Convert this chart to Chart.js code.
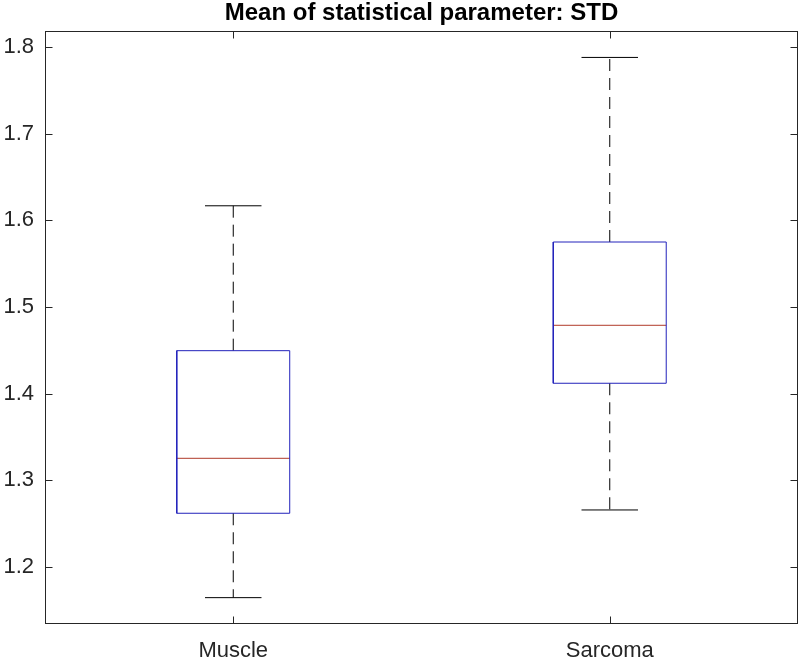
<!DOCTYPE html>
<html><head><meta charset="utf-8">
<style>html,body{margin:0;padding:0;background:#fff}#wrap{width:800px;height:662px}</style>
<script src="https://cdn.jsdelivr.net/npm/chart.js@4"></script>
</head><body><div id="wrap"><canvas id="c" width="800" height="662"></canvas></div>
<script>
// ---- data ----
const categories = ['Muscle', 'Sarcoma'];
const whiskerLow = [1.1646, 1.2658];
const q1 = [1.262, 1.412];
const median = [1.3254, 1.4789];
const q3 = [1.4496, 1.575];
const whiskerHigh = [1.6168, 1.788];
const yTicks = [1.2, 1.3, 1.4, 1.5, 1.6, 1.7, 1.8];
const yLimits = [1.1342, 1.8185];
const xLimits = [0.5, 2.5];
const titleText = 'Mean of statistical parameter: STD';

// ---- styling ----
const BOX_HALF = 0.15, CAP_HALF = 0.075;
const AXIS_COLOR = '#262626';
const BOX_COLOR = '#2222bb';
const MED_COLOR = '#b03a2a';

function line(points, color, dash) {
  return { data: points, showLine: true, borderColor: color, borderWidth: 1,
    borderDash: dash || [], pointRadius: 0, fill: false, tension: 0 };
}
const datasets = [];
categories.forEach((c, i) => {
  const x = i + 1;
  datasets.push(line([{x:x-BOX_HALF,y:q1[i]},{x:x+BOX_HALF,y:q1[i]},{x:x+BOX_HALF,y:q3[i]},{x:x-BOX_HALF,y:q3[i]},{x:x-BOX_HALF,y:q1[i]}], BOX_COLOR));
  datasets.push(line([{x:x-BOX_HALF,y:median[i]},{x:x+BOX_HALF,y:median[i]}], MED_COLOR));
  datasets.push(line([{x:x,y:q3[i]},{x:x,y:whiskerHigh[i]}], '#000', [12, 7]));
  datasets.push(line([{x:x,y:q1[i]},{x:x,y:whiskerLow[i]}], '#000', [12, 7]));
  datasets.push(line([{x:x-CAP_HALF,y:whiskerHigh[i]},{x:x+CAP_HALF,y:whiskerHigh[i]}], '#000'));
  datasets.push(line([{x:x-CAP_HALF,y:whiskerLow[i]},{x:x+CAP_HALF,y:whiskerLow[i]}], '#000'));
});

const frameTicks = {
  id: 'frameTicks',
  afterDraw(chart) {
    const {ctx, chartArea: a, scales} = chart;
    const L = Math.round(a.left) + 0.5, R = Math.round(a.right) - 0.5;
    const T = Math.round(a.top) + 0.5, B = Math.round(a.bottom) - 0.5;
    ctx.save();
    ctx.strokeStyle = AXIS_COLOR; ctx.lineWidth = 1; ctx.setLineDash([]);
    ctx.strokeRect(L, T, R - L, B - T);
    const len = 7;
    ctx.beginPath();
    yTicks.forEach(v => {
      const y = Math.round(scales.y.getPixelForValue(v)) + 0.5;
      ctx.moveTo(L, y); ctx.lineTo(L + len, y);
      ctx.moveTo(R, y); ctx.lineTo(R - len, y);
    });
    categories.forEach((c, i) => {
      const x = Math.round(scales.x.getPixelForValue(i + 1)) + 0.5;
      ctx.moveTo(x, B); ctx.lineTo(x, B - len);
      ctx.moveTo(x, T); ctx.lineTo(x, T + len);
    });
    ctx.stroke();
    // title centred over the axes, like MATLAB
    ctx.fillStyle = '#000';
    ctx.font = 'bold 24px "Liberation Sans"';
    ctx.textAlign = 'center'; ctx.textBaseline = 'alphabetic';
    ctx.fillText(titleText, (a.left + a.right) / 2, 20);
    ctx.restore();
  }
};

new Chart(document.getElementById('c'), {
  type: 'scatter',
  data: { datasets },
  options: {
    responsive: false, animation: false, devicePixelRatio: 1,
    layout: { padding: { left: 0, right: 2, top: 31, bottom: 0 } },
    plugins: { legend: { display: false }, tooltip: { enabled: false }, title: { display: false } },
    scales: {
      x: { type: 'linear', min: xLimits[0], max: xLimits[1],
        grid: { display: false, drawTicks: false }, border: { display: false },
        afterBuildTicks: s => { s.ticks = categories.map((c, i) => ({ value: i + 1 })); },
        afterFit: s => { s.height = 38; },
        ticks: { callback: v => categories[v - 1], color: AXIS_COLOR, padding: 14,
          font: { family: 'Liberation Sans', size: 22 }, maxRotation: 0 } },
      y: { type: 'linear', min: yLimits[0], max: yLimits[1],
        grid: { display: false, drawTicks: false }, border: { display: false },
        afterBuildTicks: s => { s.ticks = yTicks.map(v => ({ value: v })); },
        afterFit: s => { s.width = 45; },
        ticks: { callback: v => v.toFixed(1), color: AXIS_COLOR, padding: 11,
          font: { family: 'Liberation Sans', size: 22 } } }
    }
  },
  plugins: [frameTicks]
});
</script></body></html>
